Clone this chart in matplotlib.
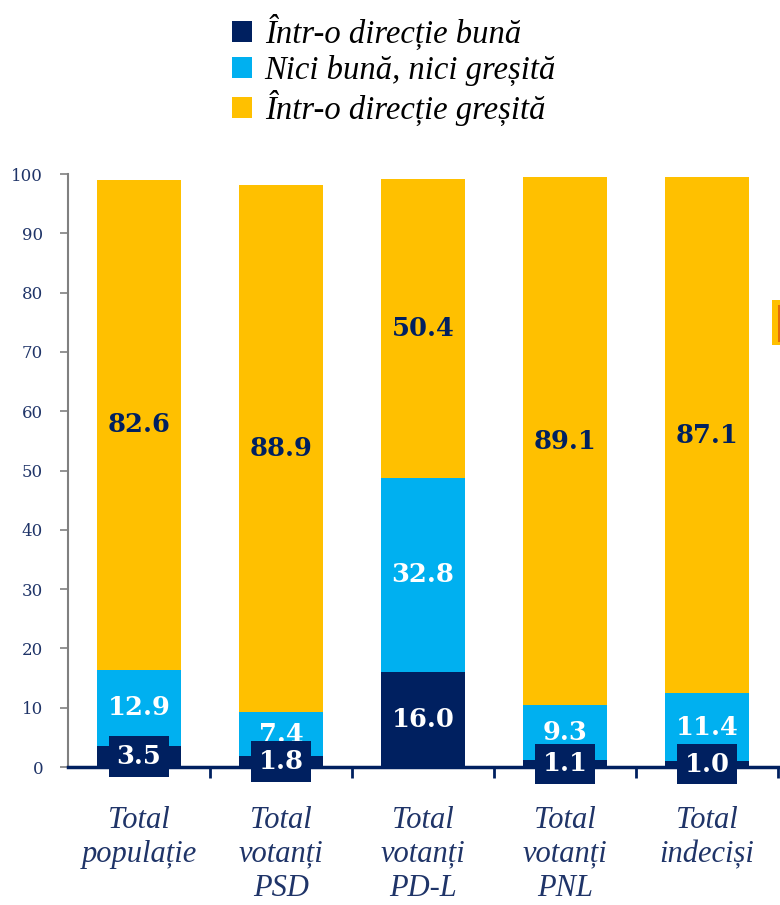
import matplotlib
matplotlib.use("Agg")
import matplotlib.pyplot as plt
from matplotlib.patches import Patch, Rectangle
import numpy as np

categories = ["Total\npopulație", "Total\nvotanți\nPSD", "Total\nvotanți\nPD-L",
              "Total\nvotanți\nPNL", "Total\nindeciși"]
series_names = ["Într-o direcție bună", "Nici bună, nici greșită", "Într-o direcție greșită"]
buna = [3.5, 1.8, 16.0, 1.1, 1.0]
nici = [12.9, 7.4, 32.8, 9.3, 11.4]
gresita = [82.6, 88.9, 50.4, 89.1, 87.1]
yticks = [0, 10, 20, 30, 40, 50, 60, 70, 80, 90, 100]

NAVY = "#002060"
BLUE = "#00B0F0"
ORANGE = "#FFC000"
TXT = "#1F3468"

fig = plt.figure(figsize=(7.8, 9.05), dpi=100)
ax = fig.add_axes([68/780, 1-767/905, 710/780, (767-174)/905])

x = np.arange(len(categories))
w = 0.585
ax.bar(x, buna, w, color=NAVY, zorder=2)
ax.bar(x, nici, w, bottom=buna, color=BLUE, zorder=2)
bottom3 = np.array(buna) + np.array(nici)
ax.bar(x, gresita, w, bottom=bottom3, color=ORANGE, zorder=2)

numfont = dict(family="DejaVu Serif", fontweight="bold", fontsize=18.5)
for i in range(len(x)):
    ax.text(x[i], buna[i]/2, f"{buna[i]:.1f}", ha="center", va="center", color="white",
            zorder=5, clip_on=False,
            bbox=dict(boxstyle="square,pad=0.3", fc=NAVY, ec="none"), **numfont)
    ax.text(x[i], buna[i] + nici[i]/2, f"{nici[i]:.1f}", ha="center", va="center",
            color="white", zorder=4, **numfont)
    ax.text(x[i], bottom3[i] + gresita[i]/2, f"{gresita[i]:.1f}", ha="center", va="center",
            color=NAVY, zorder=4, **numfont)

ax.set_xlim(-0.5, 4.5)
ax.set_ylim(0, 100)
ax.set_yticks(yticks)
ax.set_yticklabels([str(t) for t in yticks], family="DejaVu Serif", fontsize=12, color=TXT)
ax.tick_params(axis="y", direction="out", length=6, width=1.2, color="#808080", pad=12)

ax.set_xticks(x)
ax.set_xticklabels(categories, family="Liberation Serif", style="italic", fontsize=22,
                   color=TXT, linespacing=1.22)
ax.tick_params(axis="x", which="major", length=0, pad=28)
ax.set_xticks(np.arange(0.5, 5.0, 1.0), minor=True)
ax.tick_params(axis="x", which="minor", direction="out", length=8, width=2, color=NAVY)

for s in ["top", "right"]:
    ax.spines[s].set_visible(False)
ax.spines["left"].set_color("#808080")
ax.spines["left"].set_linewidth(1.5)
ax.spines["bottom"].set_color(NAVY)
ax.spines["bottom"].set_linewidth(2.5)
ax.spines["bottom"].set_zorder(3)

handles = [Patch(facecolor=c, edgecolor="none") for c in [NAVY, BLUE, ORANGE]]
leg = fig.legend(handles, series_names, loc="upper left", bbox_to_anchor=(232/780, 1-14/905),
                 frameon=False, prop=dict(family="Liberation Serif", style="italic", size=23.5),
                 handlelength=0.62, handleheight=0.62, handletextpad=0.38, labelspacing=0.14,
                 borderaxespad=0, borderpad=0)
for t in leg.get_texts():
    t.set_color("black")

# partially visible marker at right edge
fig.add_artist(Rectangle((772/780, 1-345/905), 10/780, 45/905, transform=fig.transFigure,
                         facecolor=ORANGE, edgecolor="none"))
fig.add_artist(Rectangle((778/780, 1-342/905), 4/780, 37/905, transform=fig.transFigure,
                         facecolor="#E36C0A", edgecolor="none"))

fig.savefig("out.png", dpi=100)
